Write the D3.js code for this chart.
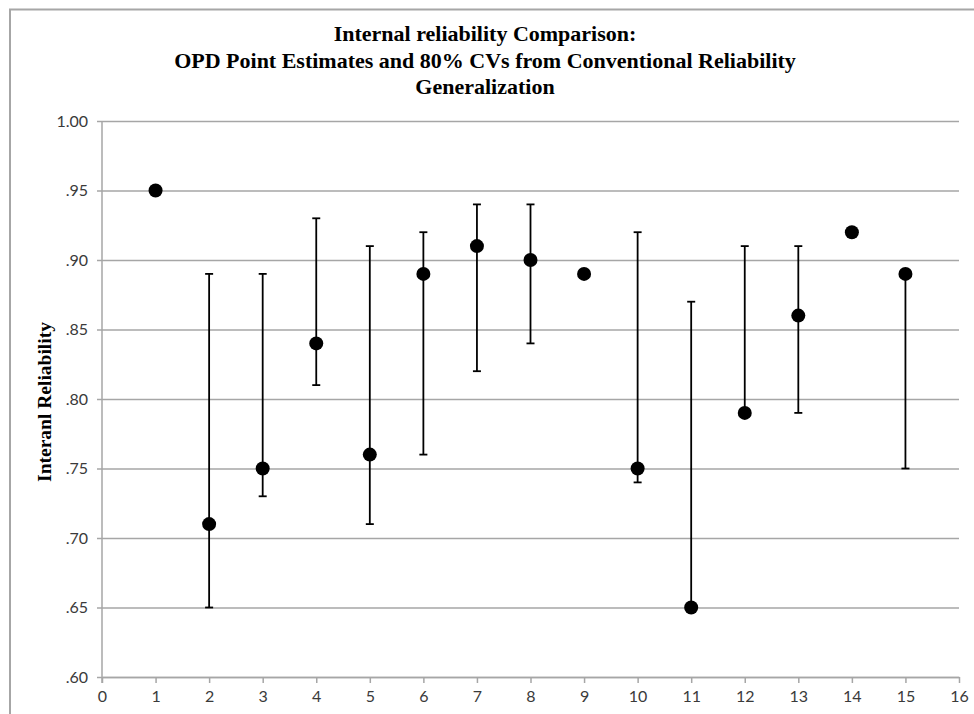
<!DOCTYPE html>
<html>
<head>
<meta charset="utf-8">
<script src="https://cdn.jsdelivr.net/npm/d3@7"></script>
<style>
  html, body { margin: 0; padding: 0; background: #fff; }
  svg { display: block; }
</style>
</head>
<body>
<svg id="chart" width="974" height="714"></svg>
<script>
// ---- Data ----
const studies   = [1, 2, 3, 4, 5, 6, 7, 8, 9, 10, 11, 12, 13, 14, 15];
const estimates = [.95, .71, .75, .84, .76, .89, .91, .90, .89, .75, .65, .79, .86, .92, .89];
const lowerCV   = [null, .65, .73, .81, .71, .76, .82, .84, null, .74, .65, .79, .79, null, .75];
const upperCV   = [null, .89, .89, .93, .91, .92, .94, .94, null, .92, .87, .91, .91, null, .89];
const yTicks    = [.60, .65, .70, .75, .80, .85, .90, .95, 1.00];
const xTicks    = d3.range(0, 17);
const titleLines = [
  "Internal reliability Comparison:",
  "OPD Point Estimates and 80% CVs from Conventional Reliability",
  "Generalization"
];
const yTitle = "Interanl Reliability";

// ---- Layout ----
const svg = d3.select("#chart");
const plot = { left: 102, right: 959, top: 121, bottom: 677 };
const x = d3.scaleLinear().domain([0, 16]).range([plot.left, plot.right]);
const y = d3.scaleLinear().domain([0.60, 1.00]).range([plot.bottom, plot.top]);
const gridColor = "#a6a6a6";
const fmt = d => d >= 1 ? d.toFixed(2) : d.toFixed(2).replace(/^0/, "");

// outer border (top & left visible)
svg.append("path")
  .attr("d", "M10,714 L10,9.5 L974,9.5")
  .attr("fill", "none").attr("stroke", "#a6a6a6").attr("stroke-width", 2);

// y axis with gridlines
const yAxis = d3.axisLeft(y).tickValues(yTicks).tickFormat(fmt)
  .tickSize(-(plot.right - plot.left)).tickPadding(10);
const gy = svg.append("g").attr("transform", `translate(${plot.left},0)`).call(yAxis);
gy.select(".domain").remove();
gy.selectAll(".tick line").attr("stroke", gridColor).attr("stroke-width", 1.5)
  .attr("x1", -5);
gy.selectAll(".tick text")
  .attr("font-family", "Lato, 'Open Sans', sans-serif").attr("font-size", 16)
  .attr("fill", "#3a3a3a").attr("x", -14);

// x axis
const xAxis = d3.axisBottom(x).tickValues(xTicks).tickFormat(d3.format("d"))
  .tickSize(6).tickPadding(8).tickSizeOuter(0);
const gx = svg.append("g").attr("transform", `translate(0,${plot.bottom})`).call(xAxis);
gx.select(".domain").attr("stroke", gridColor).attr("stroke-width", 1.5);
gx.selectAll(".tick line").attr("stroke", gridColor).attr("stroke-width", 1.5);
gx.selectAll(".tick text")
  .attr("font-family", "Lato, 'Open Sans', sans-serif").attr("font-size", 16)
  .attr("fill", "#3a3a3a");

// y axis line
svg.append("line")
  .attr("x1", plot.left).attr("x2", plot.left)
  .attr("y1", plot.top).attr("y2", plot.bottom + 6)
  .attr("stroke", gridColor).attr("stroke-width", 1.5);

// error bars
const data = studies.map((s, i) => ({ s, est: estimates[i], lo: lowerCV[i], hi: upperCV[i] }));
const eb = svg.append("g").attr("stroke", "#000").attr("stroke-width", 1.8);
const withBars = data.filter(d => d.lo !== null && d.hi !== null);
eb.selectAll("line.stem").data(withBars).join("line").attr("class", "stem")
  .attr("x1", d => x(d.s)).attr("x2", d => x(d.s))
  .attr("y1", d => y(d.lo)).attr("y2", d => y(d.hi));
eb.selectAll("line.capHi").data(withBars).join("line").attr("class", "capHi")
  .attr("x1", d => x(d.s) - 4).attr("x2", d => x(d.s) + 4)
  .attr("y1", d => y(d.hi)).attr("y2", d => y(d.hi));
eb.selectAll("line.capLo").data(withBars).join("line").attr("class", "capLo")
  .attr("x1", d => x(d.s) - 4).attr("x2", d => x(d.s) + 4)
  .attr("y1", d => y(d.lo)).attr("y2", d => y(d.lo));

// points
svg.append("g").selectAll("circle").data(data).join("circle")
  .attr("cx", d => x(d.s)).attr("cy", d => y(d.est)).attr("r", 7)
  .attr("fill", "#000");

// title
const title = svg.append("text")
  .attr("text-anchor", "middle")
  .attr("font-family", "'Liberation Serif', 'Times New Roman', serif")
  .attr("font-weight", "bold").attr("font-size", 22).attr("fill", "#000");
titleLines.forEach((t, i) => {
  title.append("tspan").attr("x", 485).attr("y", 41 + i * 26.5).text(t);
});

// y title
svg.append("text")
  .attr("transform", `translate(51,402) rotate(-90)`)
  .attr("text-anchor", "middle")
  .attr("font-family", "'Liberation Serif', 'Times New Roman', serif")
  .attr("font-weight", "bold").attr("font-size", 19.5).attr("fill", "#000")
  .text(yTitle);
</script>
</body>
</html>
